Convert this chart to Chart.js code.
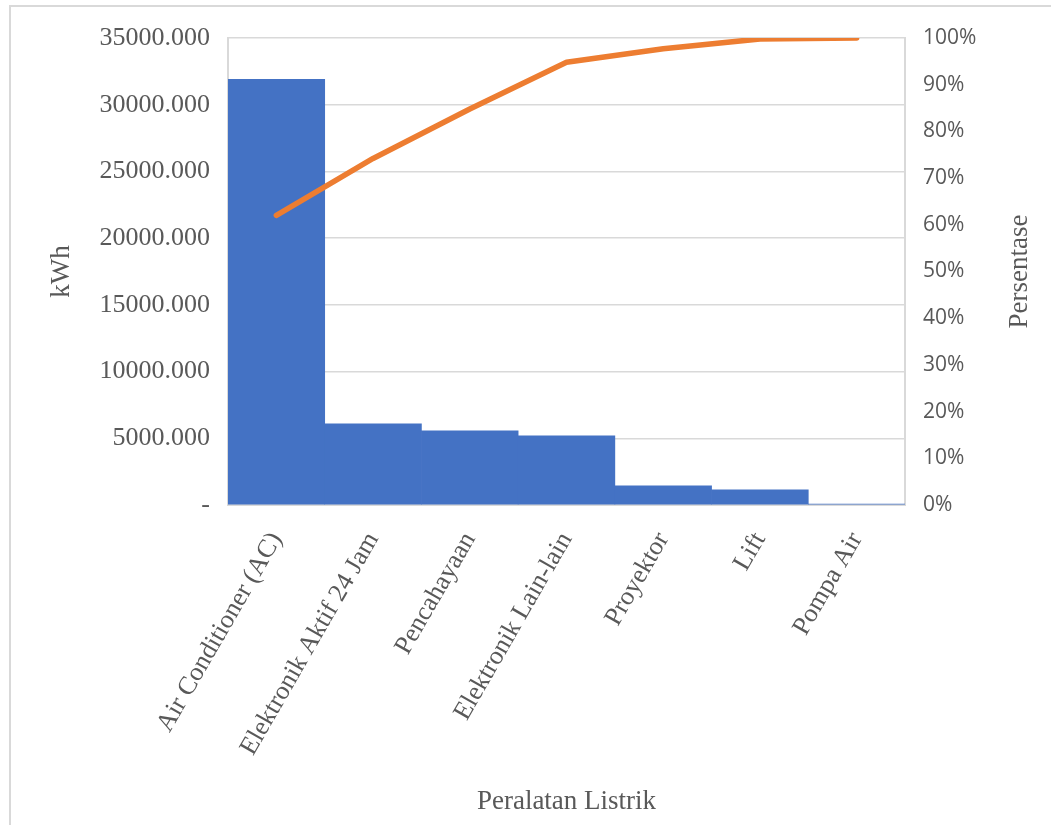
<!DOCTYPE html>
<html>
<head>
<meta charset="utf-8">
<script src="https://cdn.jsdelivr.net/npm/chart.js@4.4.1/dist/chart.umd.min.js"></script>
<style>
  body { margin: 0; background: #fff; }
  #wrap { position: relative; width: 1051px; height: 825px; overflow: hidden; }
  #frame { position: absolute; left: 9px; top: 5px; width: 1100px; height: 900px; border: 2px solid #D9D9D9; box-sizing: border-box; }
  canvas { position: absolute; left: 0; top: 0; }
</style>
</head>
<body>
<div id="wrap">
  <div id="frame"></div>
  <canvas id="paretoChart" width="1051" height="825"></canvas>
</div>
<script>
var categories = [
  "Air Conditioner (AC)",
  "Elektronik Aktif 24 Jam",
  "Pencahayaan",
  "Elektronik Lain-lain",
  "Proyektor",
  "Lift",
  "Pompa Air"
];
var kwhValues = [31900, 6080, 5560, 5180, 1430, 1130, 75];
var cumulativePct = [62.0, 74.2, 84.8, 94.8, 97.7, 99.8, 100];

var textGrey = '#595959';
var serif = '"Liberation Serif", "Times New Roman", serif';

// axis titles drawn by hand so the right one reads bottom-to-top like the original
var axisTitles = {
  id: 'axisTitles',
  afterDraw: function(chart) {
    var ctx = chart.ctx, area = chart.chartArea;
    var midY = (area.top + area.bottom) / 2;
    ctx.save();
    ctx.fillStyle = textGrey;
    ctx.font = '27px ' + serif;
    ctx.textAlign = 'center';
    ctx.textBaseline = 'middle';

    ctx.save();
    ctx.translate(62, midY);
    ctx.rotate(-Math.PI / 2);
    ctx.fillText('kWh', 0, 0);
    ctx.restore();

    ctx.save();
    ctx.translate(1020, midY);
    ctx.rotate(-Math.PI / 2);
    ctx.fillText('Persentase', 0, 0);
    ctx.restore();

    ctx.fillText('Peralatan Listrik', (area.left + area.right) / 2, 802);
    ctx.restore();
  }
};

var ctx = document.getElementById('paretoChart').getContext('2d');
var paretoChart = new Chart(ctx, {
  type: 'bar',
  data: {
    labels: categories,
    datasets: [
      {
        type: 'line',
        label: 'Persentase',
        data: cumulativePct,
        yAxisID: 'y1',
        borderColor: '#ED7D31',
        borderWidth: 5.5,
        borderCapStyle: 'round',
        borderJoinStyle: 'round',
        pointRadius: 0,
        tension: 0,
        fill: false,
        order: 0
      },
      {
        type: 'bar',
        label: 'kWh',
        data: kwhValues,
        yAxisID: 'y',
        backgroundColor: '#4472C4',
        borderWidth: 0,
        categoryPercentage: 1.0,
        barPercentage: 1.0,
        order: 1
      }
    ]
  },
  options: {
    responsive: false,
    animation: false,
    layout: {
      padding: { top: 38, left: 0, right: 0, bottom: 0 }
    },
    plugins: {
      legend: { display: false },
      tooltip: { enabled: false }
    },
    scales: {
      x: {
        grid: { display: false, drawTicks: false },
        border: { display: true, color: '#D9D9D9', width: 2 },
        ticks: {
          color: textGrey,
          font: { family: serif, size: 26 },
          minRotation: 60,
          maxRotation: 60,
          autoSkip: false,
          padding: 22
        },
        afterFit: function(scale) { scale.height = 320; }
      },
      y: {
        position: 'left',
        min: 0,
        max: 35000,
        grid: { color: '#D9D9D9', lineWidth: 1.5, drawTicks: false },
        border: { display: true, color: '#D9D9D9', width: 2 },
        ticks: {
          stepSize: 5000,
          color: textGrey,
          font: { family: serif, size: 26 },
          padding: 18,
          callback: function(v) { return v === 0 ? '-' : v.toFixed(3); }
        },
        afterFit: function(scale) { scale.width = 228; }
      },
      y1: {
        position: 'right',
        min: 0,
        max: 100,
        grid: { drawOnChartArea: false, drawTicks: false },
        border: { display: true, color: '#D9D9D9', width: 2 },
        ticks: {
          stepSize: 10,
          color: textGrey,
          font: { family: '"Open Sans", "Liberation Sans", sans-serif', size: 21 },
          padding: 18,
          callback: function(v) { return v + '%'; }
        },
        afterFit: function(scale) { scale.width = 146; }
      }
    }
  },
  plugins: [axisTitles]
});
</script>
</body>
</html>
